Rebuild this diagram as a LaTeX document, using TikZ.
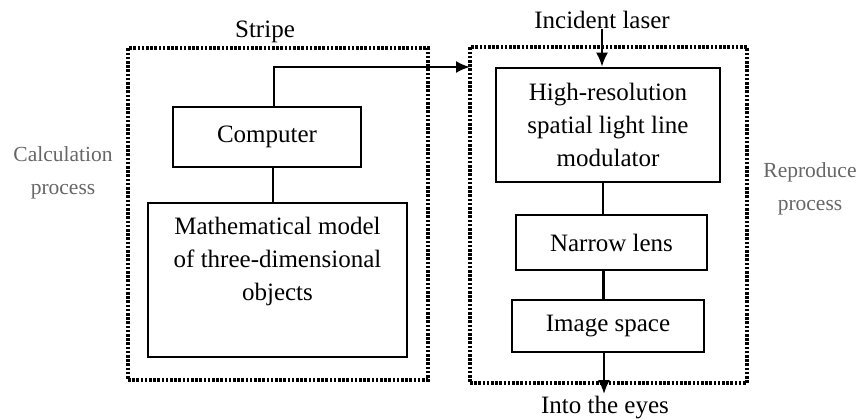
\documentclass[tikz,border=0pt]{standalone}
\usepackage{fontspec}
\setmainfont{Liberation Serif}
\usetikzlibrary{arrows.meta}

\begin{document}
\begin{tikzpicture}[x=1pt, y=-1pt,
    txt/.style={font=\fontsize{25}{33}\selectfont, inner sep=0pt},
    side/.style={font=\fontsize{21.5}{33}\selectfont, text=black!60, align=center, inner sep=0pt},
    box/.style={draw, line width=2.6pt, txt, align=center},
    zone/.style={draw, line width=3.4pt, dash pattern=on 2.6pt off 1.6pt, inner sep=0pt},
    link/.style={line width=2.2pt},
    flow/.style={line width=2.2pt, -{Latex[length=14pt, width=12pt]}}]
      \useasboundingbox (0, 0) rectangle (861, 418);
      % Calculation process
      \node[zone, minimum width=300, minimum height=332] (calc) at (278, 214) {};
      \node[txt] (stripe) at (265, 32) {Stripe};
      \node[side] (calclbl) at (63, 173) {Calculation\\process};
      \node[box, minimum width=188, minimum height=60] (comp) at (267, 137) {Computer};
      \node[box, minimum width=259, minimum height=154] (math) at (277.5, 280)
        {Mathematical model\\of three-dimensional\\objects\\ \strut};
      % Reproduce process
      \node[zone, minimum width=277, minimum height=336] (repro) at (608.5, 215) {};
      \node[side] (reprolbl) at (810, 189) {Reproduce\\process};
      \node[txt] (laser) at (602, 20) {Incident laser};
      \node[box, minimum width=224, minimum height=114] (slm) at (608, 125)
        {High-resolution\\spatial light line\\modulator};
      \node[box, minimum width=191, minimum height=55] (lens) at (611.5, 242.5) {Narrow lens};
      \node[box, minimum width=192, minimum height=52] (img) at (608, 326) {Image space};
      \node[txt] (eyes) at (605, 408) {Into the eyes};
      \coordinate (feed) at (470, 67);

      % connectors
      \draw[link] ([xshift=6pt]comp.south) -- ([xshift=6pt]comp.south |- math.north);
      \draw[flow] ([xshift=7pt]comp.north) |- (feed);
      \draw[flow] (laser.south) -- (laser.south |- slm.north);
      \draw[link] ([xshift=-5pt]slm.south) -- ([xshift=-5pt]slm.south |- lens.north);
      \draw[link] ([xshift=-8pt]lens.south) -- ([xshift=-8pt]lens.south |- img.north);
      \draw[flow] ([xshift=-4pt]img.south) -- ([xshift=-4pt]img.south |- 0, 394);
\end{tikzpicture}
\end{document}
